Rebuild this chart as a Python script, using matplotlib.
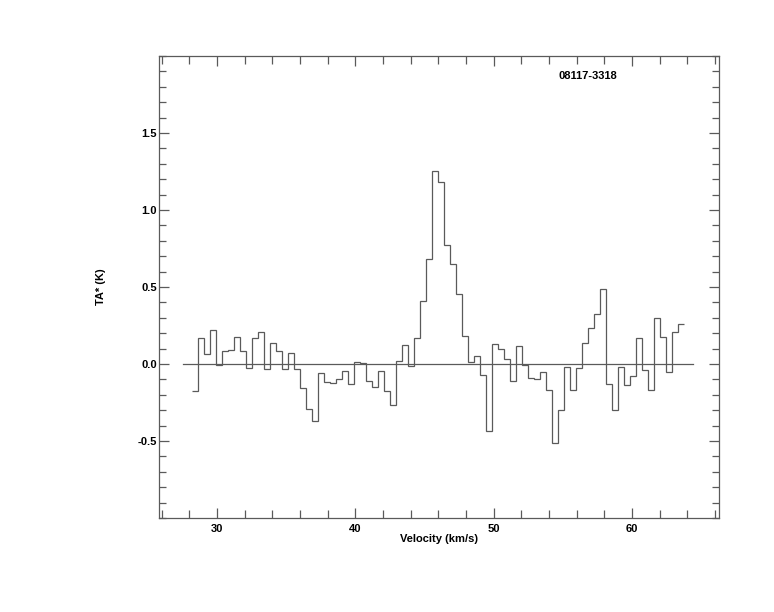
import numpy as np
import matplotlib
matplotlib.use("Agg")
import matplotlib.pyplot as plt
from matplotlib.ticker import MultipleLocator, FixedLocator

# Spectrum data (channel values, K)
v_start = 28.214       # left edge of first channel (km/s)
chan_width = 0.4335    # km/s
ta_values = [
    -0.175, 0.167, 0.065, 0.221, -0.006, 0.084, 0.091, 0.173, 0.084, -0.028,
    0.167, 0.206, -0.035, 0.134, 0.084, -0.032, 0.069, -0.032, -0.158, -0.294,
    -0.370, -0.061, -0.117, -0.125, -0.100, -0.048, -0.130, 0.011, 0.004, -0.112,
    -0.151, -0.048, -0.175, -0.268, 0.017, 0.121, -0.015, 0.167, 0.407, 0.680,
    1.251, 1.180, 0.771, 0.647, 0.453, 0.182, 0.011, 0.050, -0.074, -0.433,
    0.128, 0.095, 0.030, -0.110, 0.117, -0.006, -0.091, -0.097, -0.054, -0.169,
    -0.513, -0.301, -0.022, -0.169, -0.028, 0.136, 0.232, 0.325, 0.485, -0.130,
    -0.301, -0.022, -0.139, -0.078, 0.167, -0.037, -0.169, 0.297, 0.175, -0.052,
    0.206, 0.260,
]
baseline_x = [27.55, 64.45]
baseline_y = [0.0, 0.0]

x_major = [30, 40, 50, 60]
y_major = [-0.5, 0.0, 0.5, 1.0, 1.5]
xlim = (25.8, 66.3)
ylim = (-1.0, 2.0)
source_name = "08117-3318"

edges = v_start + chan_width * np.arange(len(ta_values) + 1)

line_col = "#5a5a5a"
plt.rcParams['font.family'] = ['Liberation Sans', 'DejaVu Sans']
fs = 8.0

fig = plt.figure(figsize=(7.74, 6.12), dpi=100)
ax = fig.add_axes([159/774, 1 - 518/612, 560/774, 462/612])

ax.stairs(ta_values, edges, baseline=None, color=line_col, linewidth=0.9)
ax.plot(baseline_x, baseline_y, color=line_col, linewidth=0.9)

ax.set_xlim(*xlim)
ax.set_ylim(*ylim)

ax.xaxis.set_major_locator(FixedLocator(x_major))
ax.xaxis.set_minor_locator(MultipleLocator(2))
ax.yaxis.set_major_locator(FixedLocator(y_major))
ax.yaxis.set_minor_locator(MultipleLocator(0.1))
ax.set_xticklabels([f"{v:d}" for v in x_major], fontsize=fs, fontweight='bold')
ax.set_yticklabels([f"{v:.1f}" for v in y_major], fontsize=fs, fontweight='bold')

ax.tick_params(axis='both', which='both', direction='in', top=True, right=True,
               color=line_col, width=0.9)
ax.tick_params(axis='x', which='major', length=7.5, pad=4)
ax.tick_params(axis='x', which='minor', length=5.5)
ax.tick_params(axis='y', which='major', length=7.5, pad=1.5)
ax.tick_params(axis='y', which='minor', length=5.2)

for sp in ax.spines.values():
    sp.set_color(line_col)
    sp.set_linewidth(0.9)

ax.set_xlabel("Velocity (km/s)", fontsize=fs, fontweight='bold', labelpad=0)
ax.set_ylabel("TA* (K)", fontsize=fs, fontweight='bold', labelpad=23)

ax.text(0.714, 0.957, source_name, transform=ax.transAxes, ha='left', va='center',
        fontsize=fs, fontweight='bold')

fig.savefig("out.png", dpi=100)
